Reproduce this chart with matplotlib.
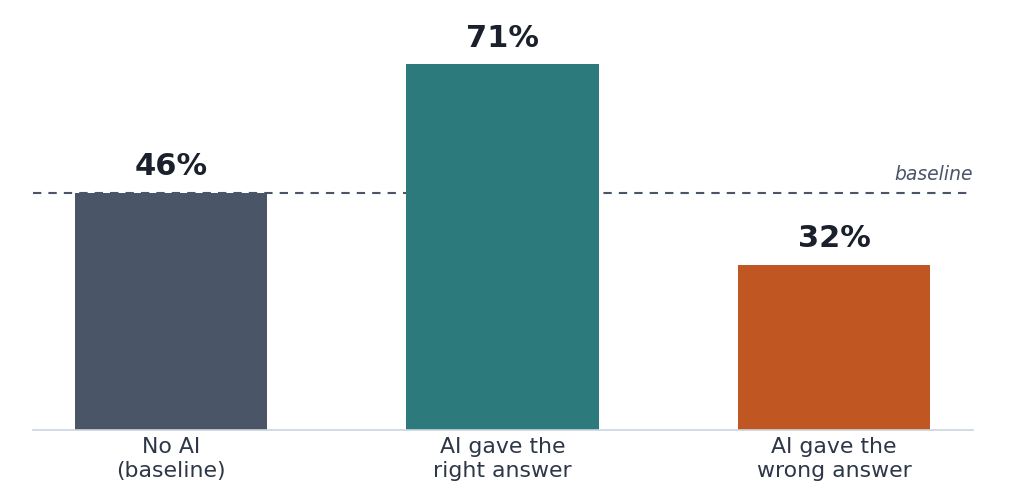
import matplotlib.pyplot as plt

# data
categories = ["No AI\n(baseline)", "AI gave the\nright answer", "AI gave the\nwrong answer"]
values = [46, 71, 32]
colors = ["#4a5568", "#2c7a7b", "#c05621"]
baseline_value = values[0]

fig = plt.figure(figsize=(10.24, 4.95), dpi=100)
ax = fig.add_axes([0.0322, 0.1313, 0.918, 0.8687])

x = range(len(categories))
bars = ax.bar(x, values, width=0.58, color=colors, zorder=2)

# dashed baseline behind the bars
ax.axhline(baseline_value, color="#4a5568", linestyle=(0, (4, 3.4)), linewidth=1.5, zorder=1)
ax.text(1.0, baseline_value + 1.8, "baseline", transform=ax.get_yaxis_transform(),
        ha="right", va="bottom", fontsize=13.5, style="italic", color="#4a5568")

# value labels
for bar, v in zip(bars, values):
    ax.annotate(f"{v}%", (bar.get_x() + bar.get_width() / 2, v),
                xytext=(0, 8.5), textcoords="offset points",
                ha="center", va="bottom", fontsize=22, fontweight="bold", color="#1a202c")

ax.set_xlim(-0.416, 2.419)
ax.set_ylim(0, 83.5)
ax.set_xticks(list(x))
ax.set_xticklabels(categories, fontsize=15.8, color="#2d3748", linespacing=1.25)
ax.tick_params(axis="x", length=0, pad=5)
ax.set_yticks([])
for s in ["top", "left", "right"]:
    ax.spines[s].set_visible(False)
ax.spines["bottom"].set_color("#cbd5e0")
ax.spines["bottom"].set_linewidth(1.2)

plt.savefig("out.png", dpi=100)
